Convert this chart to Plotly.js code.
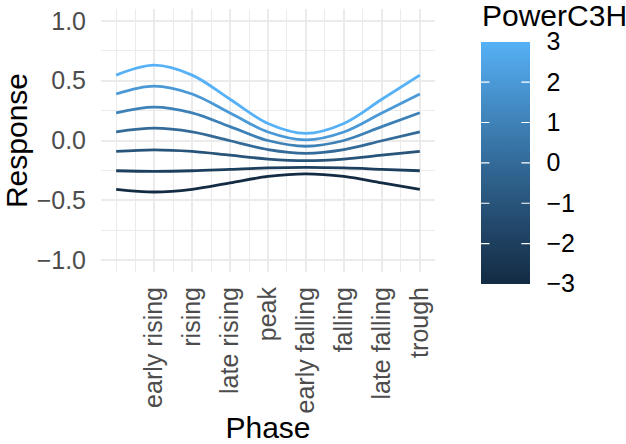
<!DOCTYPE html>
<html>
<head>
<meta charset="utf-8">
<script src="https://cdn.plot.ly/plotly-3.0.1.min.js"></script>
<style>html,body{margin:0;padding:0;background:#fff;}#chart{width:626px;height:444px;}</style>
</head>
<body>
<div id="chart"></div>
<script>
// ---- data ----
const phaseLabels = ["early rising", "rising", "late rising", "peak", "early falling", "falling", "late falling", "trough"];
const phaseTicks = [1, 2, 3, 4, 5, 6, 7, 8];
const phaseX = [0, 1, 2, 3, 4, 5, 6, 7, 8];
const powerLevels = [-3, -2, -1, 0, 1, 2, 3];
const respPowerM3 = [-0.409, -0.431, -0.409, -0.355, -0.301, -0.279, -0.301, -0.355, -0.409];
const respPowerM2 = [-0.253, -0.258, -0.253, -0.241, -0.229, -0.224, -0.229, -0.241, -0.253];
const respPowerM1 = [-0.091, -0.078, -0.091, -0.123, -0.155, -0.168, -0.155, -0.123, -0.091];
const respPower0  = [0.072, 0.103, 0.072, -0.002, -0.076, -0.107, -0.076, -0.002, 0.072];
const respPower1  = [0.232, 0.280, 0.232, 0.116, 0.000, -0.048, 0.000, 0.116, 0.232];
const respPower2  = [0.389, 0.455, 0.389, 0.230, 0.071, 0.005, 0.071, 0.230, 0.389];
const respPower3  = [0.547, 0.630, 0.547, 0.345, 0.143, 0.060, 0.143, 0.345, 0.547];
const responses = [respPowerM3, respPowerM2, respPowerM1, respPower0, respPower1, respPower2, respPower3];
const yTicks = [-1, -0.5, 0, 0.5, 1];
const yMinor = [-0.75, -0.25, 0.25, 0.75];
const xMinor = [0, 0.5, 1.5, 2.5, 3.5, 4.5, 5.5, 6.5, 7.5];
const cbTicks = [-3, -2, -1, 0, 1, 2, 3];

// ---- colour helpers (Lab gradient like ggplot) ----
const LOW = "#132B43", HIGH = "#56B1F7";
function hex2rgb(h){return [parseInt(h.slice(1,3),16),parseInt(h.slice(3,5),16),parseInt(h.slice(5,7),16)];}
function lin(c){c/=255;return c<=0.04045?c/12.92:Math.pow((c+0.055)/1.055,2.4);}
function unlin(c){c=c<=0.0031308?12.92*c:1.055*Math.pow(c,1/2.4)-0.055;return Math.max(0,Math.min(255,Math.round(c*255)));}
const Xn=0.95047,Yn=1.0,Zn=1.08883;
function f(t){return t>0.008856?Math.cbrt(t):7.787*t+16/116;}
function finv(t){return t>0.206893?t*t*t:(t-16/116)/7.787;}
function rgb2lab(rgb){const [r,g,b]=rgb.map(lin);
  const X=r*0.4124+g*0.3576+b*0.1805,Y=r*0.2126+g*0.7152+b*0.0722,Z=r*0.0193+g*0.1192+b*0.9505;
  const fx=f(X/Xn),fy=f(Y/Yn),fz=f(Z/Zn);return [116*fy-16,500*(fx-fy),200*(fy-fz)];}
function lab2rgb(lab){const fy=(lab[0]+16)/116,fx=fy+lab[1]/500,fz=fy-lab[2]/200;
  const X=Xn*finv(fx),Y=Yn*finv(fy),Z=Zn*finv(fz);
  const r=X*3.2406+Y*-1.5372+Z*-0.4986,g=X*-0.9689+Y*1.8758+Z*0.0415,b=X*0.0557+Y*-0.2040+Z*1.0570;
  return "rgb("+[r,g,b].map(unlin).join(",")+")";}
const labLo=rgb2lab(hex2rgb(LOW)),labHi=rgb2lab(hex2rgb(HIGH));
function grad(t){return lab2rgb([0,1,2].map(i=>labLo[i]+(labHi[i]-labLo[i])*t));}
const scale=[];for(let i=0;i<=20;i++){scale.push([i/20,grad(i/20)]);}

// ---- geometry ----
const W=626,H=444,L=100.5,R=191,T=9.3,B=172;
const cbLeft=481,cbThick=49,cbTop=42,cbLen=242;
const pw=W-L-R,ph=H-T-B;

const traces = responses.map((ys,i)=>({
  type:"scatter",mode:"lines",x:phaseX,y:ys,
  line:{color:grad((powerLevels[i]+3)/6),width:2.8,shape:"spline",smoothing:1},
  hoverinfo:"skip",showlegend:false
}));
traces.push({
  type:"scatter",mode:"markers",x:[phaseX[0],phaseX[0]],y:[respPowerM3[0],respPowerM3[0]],
  hoverinfo:"skip",showlegend:false,
  marker:{size:0.1,opacity:0,color:[powerLevels[0],powerLevels[powerLevels.length-1]],cmin:-3,cmax:3,colorscale:scale,showscale:true,
    colorbar:{
      thickness:cbThick,thicknessmode:"pixels",len:cbLen,lenmode:"pixels",
      x:cbLeft/W,xref:"container",xanchor:"left",xpad:0,
      y:(H-B-cbTop)/ph,yref:"paper",yanchor:"top",ypad:0,
      outlinewidth:0,tickmode:"array",tickvals:cbTicks,ticktext:cbTicks.map(v=>v<0?"\u2212"+(-v):String(v)),
      ticks:"outside",ticklen:12,tickcolor:"rgba(0,0,0,0)",
      tickfont:{family:"Liberation Sans",size:25,color:"#000"}}}
});

// white colorbar tick marks on both sides, as arrow-only annotations (drawn above the colorbar)
const annotations=[];
cbTicks.slice(1,-1).forEach(v=>{
  const py=cbTop+cbLen*(3-v)/6;
  const yp=(H-B-py)/ph;
  [[cbLeft,10],[cbLeft+cbThick,-10]].forEach(([tip,ax])=>{
    annotations.push({xref:"paper",yref:"paper",x:(tip-L)/pw,y:yp,text:"",showarrow:true,arrowhead:0,
      ax:ax,ay:0,axref:"pixel",ayref:"pixel",arrowwidth:1.2,arrowcolor:"#fff",standoff:0,startstandoff:0});
  });
});
annotations.push({text:"PowerC3H",xref:"paper",yref:"paper",x:(cbLeft-L)/pw,y:(H-B-15.5)/ph,xanchor:"left",yanchor:"middle",
    height:25,valign:"middle",showarrow:false,borderpad:0,font:{family:"Liberation Sans",size:30,color:"#000"}});

const layout={
  width:W,height:H,margin:{l:L,r:R,t:T,b:B,pad:0},
  paper_bgcolor:"#fff",plot_bgcolor:"#fff",showlegend:false,
  font:{family:"Liberation Sans",color:"#000"},
  xaxis:{range:[-0.4,8.4],tickmode:"array",tickvals:phaseTicks,ticktext:phaseLabels,tickangle:-90,
    tickfont:{family:"Liberation Sans",size:25,color:"#4D4D4D"},ticks:"",ticklabelstandoff:9,
    showgrid:true,gridcolor:"#EBEBEB",gridwidth:2,zeroline:false,showline:false,
    minor:{tickmode:"array",tickvals:xMinor,showgrid:true,gridcolor:"#EBEBEB",gridwidth:1,ticks:""},
    title:{text:"Phase",font:{family:"Liberation Sans",size:30,color:"#000"},standoff:10}},
  yaxis:{range:[-1.1,1.1],tickmode:"array",tickvals:yTicks,tickformat:".1f",
    tickfont:{family:"Liberation Sans",size:25,color:"#4D4D4D"},ticks:"",ticklabelstandoff:14,
    showgrid:true,gridcolor:"#EBEBEB",gridwidth:2,zeroline:false,showline:false,
    minor:{tickmode:"array",tickvals:yMinor,showgrid:true,gridcolor:"#EBEBEB",gridwidth:1,ticks:""},
    title:{text:"Response",font:{family:"Liberation Sans",size:30,color:"#000"},standoff:12}},
  annotations:annotations
};
Plotly.newPlot("chart",traces,layout,{staticPlot:true,displayModeBar:false});
</script>
</body>
</html>
